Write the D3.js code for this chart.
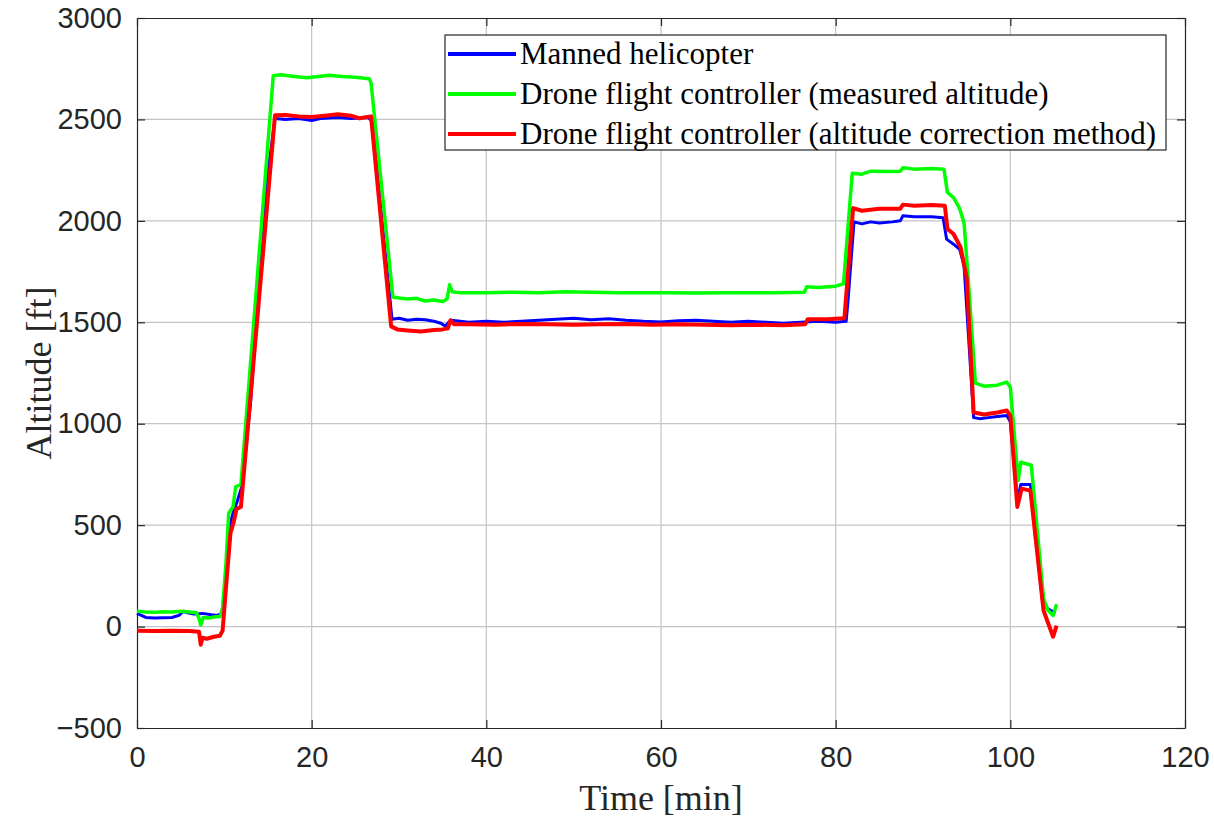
<!DOCTYPE html>
<html>
<head>
<meta charset="utf-8">
<script src="https://cdn.jsdelivr.net/npm/d3@7"></script>
<style>
  html, body { margin: 0; padding: 0; background: #fff; }
  svg { display: block; }
</style>
</head>
<body>
<div id="chart"></div>
<script>
(function(){

  var width = 1214;
  var height = 822;
  var margin = { top: 18, right: 29, bottom: 94, left: 137 };

  var xTicks = [0, 20, 40, 60, 80, 100, 120];
  var yTicks = [-500, 0, 500, 1000, 1500, 2000, 2500, 3000];

  var seriesNames = [
    'Manned helicopter',
    'Drone flight controller (measured altitude)',
    'Drone flight controller (altitude correction method)'
  ];
  var seriesColors = ['#0000ff', '#00ff00', '#ff0000'];

  // manned helicopter: time [min], altitude [ft]
  var heliTime = [0, 0.5, 1, 2, 3, 4, 4.8, 5.3, 5.8, 6.5, 7, 7.5, 8.5, 9.2, 9.7, 10.1, 10.5, 11, 11.5, 12,
    13, 14, 15, 15.8, 17, 18.5, 20, 21, 23, 24.5, 26.5, 26.9, 29.2, 30, 31, 32, 33, 34, 34.8, 35.3,
    35.7, 36, 38, 40, 42, 44, 46, 48, 50, 52, 54, 56, 58, 60, 62, 64, 66, 68, 70, 72, 74, 76, 78, 80,
    81.2, 81.4, 82.1, 83, 84, 85, 86.5, 87.4, 87.7, 89, 91, 92.3, 92.7, 93.5, 94.2, 94.7, 95.8, 96.5,
    97.5, 98.5, 99.6, 100, 100.8, 101.2, 102.3, 103.7, 104.2, 104.8, 105.2];
  var heliAlt = [65, 55, 45, 42, 44, 45, 55, 75, 68, 62, 62, 65, 58, 55, 65, 200, 480, 560, 620, 690,
    1100, 1700, 2240, 2505, 2500, 2505, 2495, 2505, 2510, 2505, 2510, 2490, 1515, 1520, 1510, 1515, 1512, 1505, 1495, 1480,
    1500, 1510, 1500, 1505, 1500, 1505, 1510, 1515, 1520, 1512, 1518, 1510, 1505, 1502, 1508, 1510, 1505, 1500, 1505, 1500, 1495, 1500, 1505, 1500,
    1505, 1600, 1995, 1985, 1995, 1990, 1995, 2000, 2025, 2020, 2020, 2015, 1910, 1885, 1860, 1780, 1030, 1025,
    1030, 1035, 1040, 1010, 620, 700, 700, 120, 90, 75, 70];

  // drone flight controller, measured altitude
  var measTime = [0, 1, 2, 3, 4, 5, 6, 6.8, 7.1, 7.3, 7.6, 8.2, 9, 9.5, 9.8, 10.2, 10.5, 11, 11.3, 11.9,
    15.6, 16.5, 18, 19.5, 20.5, 22, 23.5, 25, 26.6, 26.8, 29.3, 30, 31, 32, 33, 34, 35, 35.5, 35.8, 36.1,
    37, 40, 43, 46, 49, 52, 55, 58, 61, 64, 67, 70, 73, 76.4, 76.7, 78, 80, 80.9, 81.9, 83, 84, 86,
    87.4, 87.7, 89, 91, 92.4, 92.8, 93.5, 94.2, 94.7, 95.2, 96, 97, 98.5, 99.6, 100, 100.9, 101.2, 102.4,
    103.8, 104.3, 104.9, 105.3];
  var measAlt = [75, 72, 70, 73, 72, 75, 72, 68, 40, 8, 45, 42, 48, 50, 90, 320, 560, 590, 690, 700,
    2715, 2720, 2712, 2705, 2710, 2718, 2712, 2708, 2700, 2680, 1625, 1620, 1615, 1618, 1605, 1610, 1602, 1615, 1685, 1650,
    1645, 1645, 1648, 1645, 1650, 1648, 1645, 1646, 1645, 1644, 1646, 1645, 1646, 1648, 1675, 1672, 1678, 1690, 2235, 2230, 2245, 2243,
    2245, 2262, 2255, 2258, 2255, 2140, 2115, 2060, 1990, 1700, 1200, 1185, 1190, 1205, 1180, 720, 810, 795,
    140, 80, 55, 110];

  // drone flight controller, altitude correction method
  var corrTime = [0, 2, 4, 6, 7.1, 7.3, 7.5, 8, 8.8, 9.5, 9.8, 10.3, 10.7, 11.1, 11.4, 11.9,
    15.8, 17, 18.5, 20, 21.5, 23, 24.5, 25.5, 26, 26.8, 29.1, 29.8, 31, 32.5, 34, 35, 35.6, 35.9, 36.3,
    38, 41, 44, 47, 50, 53, 56, 59, 62, 65, 68, 71, 74, 76.5, 76.8, 79, 81, 82, 83, 85, 87.4, 87.7,
    89, 91, 92.5, 92.8, 93.5, 94.3, 95, 95.8, 97, 98.5, 99.6, 100, 100.8, 101.3, 102.3, 103.8, 104.3,
    104.9, 105.3];
  var corrAlt = [-20, -22, -20, -22, -25, -90, -55, -60, -50, -45, -20, 250, 460, 520, 580, 590,
    2520, 2522, 2515, 2512, 2518, 2525, 2518, 2505, 2510, 2515, 1480, 1465, 1460, 1455, 1462, 1465, 1470, 1510, 1490,
    1490, 1488, 1492, 1490, 1488, 1490, 1492, 1488, 1490, 1488, 1485, 1488, 1485, 1490, 1515, 1515, 1520, 2063, 2050, 2060, 2060, 2080,
    2075, 2078, 2075, 1960, 1935, 1870, 1720, 1055, 1045, 1055, 1065, 1040, 590, 680, 670, 80, 20,
    -50, 5];

  var seriesTimes = [heliTime, measTime, corrTime];
  var seriesAlts = [heliAlt, measAlt, corrAlt];
  var seriesWidths = [3, 3.5, 4];

  var innerW = width - margin.left - margin.right;
  var innerH = height - margin.top - margin.bottom;

  var x = d3.scaleLinear().domain([0, 120]).range([0, innerW]);
  var y = d3.scaleLinear().domain([-500, 3000]).range([innerH, 0]);

  var svg = d3.select('#chart')
              .append('svg')
              .attr('width', width)
              .attr('height', height);

  var g = svg.append('g')
             .attr('transform', 'translate(' + margin.left + ',' + margin.top + ')');

  // grid
  g.append('g').selectAll('line')
   .data(xTicks.slice(1, -1))
   .enter().append('line')
   .attr('x1', x).attr('x2', x)
   .attr('y1', 0).attr('y2', innerH)
   .attr('stroke', '#c4c4c4').attr('stroke-width', 1.2);

  g.append('g').selectAll('line')
   .data(yTicks.slice(1, -1))
   .enter().append('line')
   .attr('y1', y).attr('y2', y)
   .attr('x1', 0).attr('x2', innerW)
   .attr('stroke', '#c4c4c4').attr('stroke-width', 1.2);

  // axes (ticks point inward)
  var xAxis = g.append('g')
               .attr('transform', 'translate(0,' + innerH + ')')
               .call(d3.axisBottom(x).tickValues(xTicks).tickSizeInner(-8).tickSizeOuter(0).tickPadding(18));
  var xTop = g.append('g')
              .call(d3.axisTop(x).tickValues(xTicks).tickSizeInner(-8).tickSizeOuter(0).tickFormat(''));
  var yAxis = g.append('g')
               .call(d3.axisLeft(y).tickValues(yTicks).tickSizeInner(-8).tickSizeOuter(0).tickPadding(15)
                 .tickFormat(function(d) { return d < 0 ? '\u2212' + Math.abs(d) : d; }));
  var yRight = g.append('g')
                .attr('transform', 'translate(' + innerW + ',0)')
                .call(d3.axisRight(y).tickValues(yTicks).tickSizeInner(-8).tickSizeOuter(0).tickFormat(''));

  [xAxis, xTop, yAxis, yRight].forEach(function(a) {
    a.select('.domain').attr('stroke', '#262626').attr('stroke-width', 1.2);
    a.selectAll('.tick line').attr('stroke', '#262626').attr('stroke-width', 1.2);
    a.selectAll('.tick text')
     .attr('fill', '#262626')
     .attr('font-family', '"Liberation Sans", Arial, sans-serif')
     .attr('font-size', '29px');
  });

  // series
  var line = d3.line()
               .x(function(d) { return x(d[0]); })
               .y(function(d) { return y(d[1]); });

  seriesNames.forEach(function(name, i) {
    var pts = seriesTimes[i].map(function(t, j) { return [t, seriesAlts[i][j]]; });
    g.append('path')
     .datum(pts)
     .attr('d', line)
     .attr('fill', 'none')
     .attr('stroke', seriesColors[i])
     .attr('stroke-width', seriesWidths[i])
     .attr('stroke-linejoin', 'round');
  });

  // axis titles
  svg.append('text')
     .text('Time [min]')
     .attr('x', margin.left + innerW / 2)
     .attr('y', 810)
     .attr('text-anchor', 'middle')
     .attr('font-family', '"Liberation Serif", "Times New Roman", serif')
     .attr('font-size', '36px')
     .attr('fill', '#262626');

  svg.append('text')
     .text('Altitude [ft]')
     .attr('transform', 'translate(51,' + (margin.top + innerH / 2) + ') rotate(-90)')
     .attr('text-anchor', 'middle')
     .attr('font-family', '"Liberation Serif", "Times New Roman", serif')
     .attr('font-size', '36px')
     .attr('fill', '#262626');

  // legend
  var legend = svg.append('g').attr('transform', 'translate(445,35)');
  legend.append('rect')
        .attr('width', 721).attr('height', 115)
        .attr('fill', '#fff')
        .attr('stroke', '#262626').attr('stroke-width', 1.2);

  var rows = legend.selectAll('g.row')
                   .data(seriesNames)
                   .enter().append('g')
                   .attr('class', 'row')
                   .attr('transform', function(d, i) { return 'translate(0,' + (19 + i * 40) + ')'; });
  rows.append('line')
      .attr('x1', 3).attr('x2', 71)
      .attr('stroke', function(d, i) { return seriesColors[i]; })
      .attr('stroke-width', 4);
  rows.append('text')
      .text(function(d) { return d; })
      .attr('x', 75).attr('y', 10)
      .attr('font-family', '"Liberation Serif", "Times New Roman", serif')
      .attr('font-size', '31px')
      .attr('fill', '#000');

})();
</script>
</body>
</html>
